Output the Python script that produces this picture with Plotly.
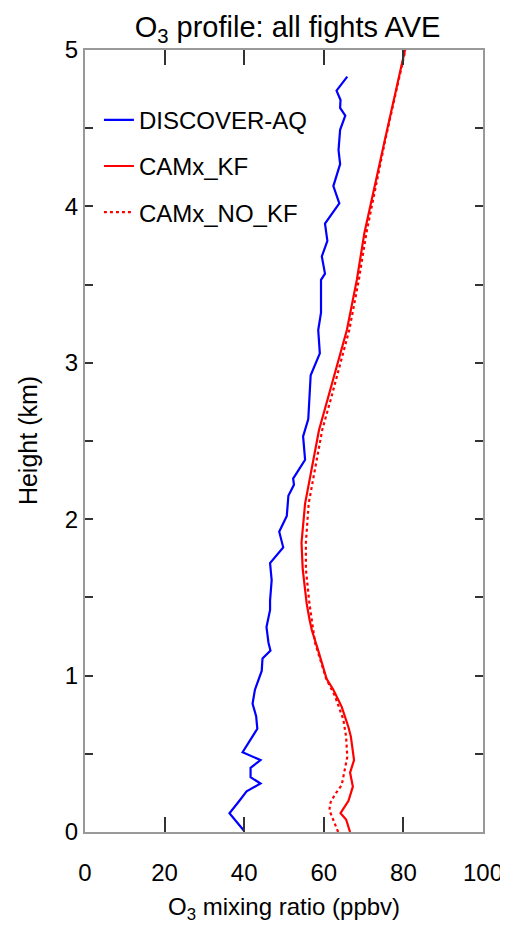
import plotly.graph_objects as go

# ---- data ----
obs_height = [0.01, 0.12, 0.20, 0.26, 0.31, 0.35, 0.41, 0.46, 0.51, 0.60, 0.66, 0.74, 0.82, 0.91,
              1.03, 1.11, 1.16, 1.21, 1.31, 1.42, 1.48, 1.61, 1.72, 1.82, 1.92, 2.02, 2.15, 2.22,
              2.26, 2.38, 2.53, 2.64, 2.81, 2.92, 3.06, 3.21, 3.32, 3.53, 3.57, 3.68, 3.78, 3.89,
              4.02, 4.13, 4.27, 4.36, 4.49, 4.58, 4.63, 4.68, 4.74, 4.83]
obs_o3 = [39.9, 36.3, 38.8, 40.6, 44.1, 41.6, 41.6, 44.1, 39.6, 41.9, 43.3, 43.0, 42.1, 42.7,
          44.4, 44.6, 46.6, 46.1, 45.6, 46.5, 46.5, 46.9, 46.5, 49.8, 48.8, 50.7, 51.1, 52.5,
          52.3, 55.3, 54.8, 56.1, 56.5, 56.7, 59.0, 58.6, 59.3, 59.3, 60.3, 59.5, 60.9, 60.3,
          63.9, 62.4, 64.1, 63.7, 64.1, 65.4, 64.1, 64.2, 63.2, 65.9]

kf_height = [0.00, 0.08, 0.12, 0.20, 0.29, 0.38, 0.46, 0.61, 0.67, 0.80, 0.91, 0.98, 1.16, 1.29,
             1.36, 1.46, 1.68, 1.85, 2.10, 2.32, 2.57, 2.78, 3.00, 3.21, 3.53, 3.83, 4.42, 5.00]
kf_o3 = [66.6, 65.6, 64.2, 66.2, 67.3, 66.6, 67.6, 66.8, 66.2, 64.5, 62.4, 60.7, 58.6, 57.0,
         56.4, 55.7, 54.7, 54.4, 55.3, 57.0, 58.8, 61.1, 63.6, 65.8, 68.3, 70.2, 75.3, 80.4]

nokf_height = [0.00, 0.08, 0.14, 0.19, 0.24, 0.30, 0.35, 0.48, 0.61, 0.72, 0.87, 0.98, 1.21, 1.36,
               1.46, 1.68, 1.85, 2.10, 2.32, 2.57, 2.78, 3.00, 3.21, 3.53, 3.83, 4.42, 5.00]
nokf_o3 = [63.6, 62.4, 61.4, 61.7, 62.8, 64.5, 64.9, 65.9, 65.6, 64.9, 62.8, 60.6, 57.8, 57.0,
           56.4, 55.5, 55.5, 56.2, 57.8, 59.6, 61.9, 64.3, 66.4, 68.8, 70.7, 75.4, 80.5]

x_ticks = [0, 20, 40, 60, 80, 100]
y_ticks = [0, 0.5, 1, 1.5, 2, 2.5, 3, 3.5, 4, 4.5, 5]
y_ticktext = ["0", "", "1", "", "2", "", "3", "", "4", "", "5"]

FONT = "Liberation Sans, Arial, Helvetica, sans-serif"

fig = go.Figure()
fig.add_trace(go.Scatter(x=obs_o3, y=obs_height, mode="lines", name="DISCOVER-AQ",
                         legendgroup="a", line=dict(color="#0000ff", width=2.2)))
fig.add_trace(go.Scatter(x=kf_o3, y=kf_height, mode="lines", name="CAMx_KF",
                         legendgroup="b", line=dict(color="#ff0000", width=2.2)))
fig.add_trace(go.Scatter(x=nokf_o3, y=nokf_height, mode="lines", name="CAMx_NO_KF",
                         legendgroup="c", line=dict(color="#ff0000", width=2.2, dash="dot")))

# the page body adds an 8 px offset, so the figure is 500 x 919
fig.update_layout(
    width=500, height=919,
    margin=dict(l=77, r=25, t=42, b=95, autoexpand=False),
    paper_bgcolor="white", plot_bgcolor="white",
    font=dict(family=FONT, color="black"),
    title=dict(text="O<sub>3</sub> profile: all fights AVE", x=0.559, xanchor="center",
               y=0.980, yanchor="middle", font=dict(size=29, family=FONT)),
    showlegend=True,
    legend=dict(x=0.035, y=0.939, xanchor="left", yanchor="top", bgcolor="rgba(0,0,0,0)",
                font=dict(size=24), tracegroupgap=12, traceorder="grouped",
                itemwidth=30),
)
fig.update_xaxes(range=[0, 100], tickvals=x_ticks, ticks="inside", ticklen=15, tickwidth=1.5,
                 tickcolor="#333", showline=True, linecolor="#999", linewidth=2, mirror="ticks",
                 showgrid=False, zeroline=False, tickfont=dict(size=24),
                 ticklabelstandoff=18, automargin=False)
fig.update_yaxes(range=[0, 5], tickvals=y_ticks, ticktext=y_ticktext, ticks="inside", ticklen=8,
                 tickwidth=1.5, tickcolor="#333", showline=True, linecolor="#999", linewidth=2,
                 mirror="ticks", showgrid=False, zeroline=False, tickfont=dict(size=24),
                 ticklabelstandoff=0, automargin=False)

fig.add_annotation(text="O<sub>3</sub> mixing ratio (ppbv)", xref="paper", yref="paper",
                   x=0.5, y=-0.098, xanchor="center", yanchor="middle", showarrow=False,
                   font=dict(size=24, family=FONT))
fig.add_annotation(text="Height (km)", xref="paper", yref="paper", textangle=-90,
                   x=-0.143, y=0.5, xanchor="center", yanchor="middle", showarrow=False,
                   font=dict(size=25, family=FONT))

fig.write_html("out.html")
